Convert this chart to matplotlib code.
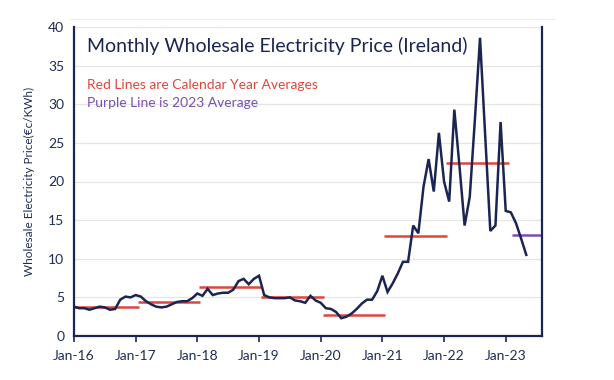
import matplotlib
matplotlib.use("Agg")
import matplotlib.pyplot as plt
from matplotlib.lines import Line2D

plt.rcParams['font.family'] = ['Lato', 'DejaVu Sans']

# Monthly prices Jan-16 .. May-23 (c/kWh)
price_2016 = [3.8, 3.6, 3.6, 3.4, 3.6, 3.8, 3.7, 3.4, 3.5, 4.7, 5.1, 5.0]
price_2017 = [5.3, 5.1, 4.5, 4.1, 3.8, 3.7, 3.8, 4.1, 4.4, 4.5, 4.5, 4.9]
price_2018 = [5.5, 5.2, 6.1, 5.3, 5.5, 5.6, 5.6, 6.0, 7.1, 7.4, 6.7, 7.4]
price_2019 = [7.8, 5.3, 5.0, 4.9, 4.9, 4.9, 5.0, 4.6, 4.5, 4.3, 5.2, 4.6]
price_2020 = [4.3, 3.6, 3.5, 3.1, 2.3, 2.5, 2.9, 3.5, 4.2, 4.7, 4.7, 5.8]
price_2021 = [7.8, 5.7, 6.8, 8.1, 9.6, 9.6, 14.3, 13.3, 19.3, 22.9, 18.7, 26.3]
price_2022 = [20.0, 17.4, 29.3, 22.0, 14.3, 18.0, 28.0, 38.6, 26.0, 13.6, 14.3, 27.7]
price_2023 = [16.2, 16.0, 14.6, 12.6, 10.5]

years = [2016, 2017, 2018, 2019, 2020, 2021, 2022]
year_avgs = [3.8, 4.4, 6.3, 5.1, 2.7, 13.0, 22.4]
avg_2023 = 13.1

tick_labels = ["Jan-16", "Jan-17", "Jan-18", "Jan-19", "Jan-20", "Jan-21", "Jan-22", "Jan-23"]

prices = price_2016 + price_2017 + price_2018 + price_2019 + price_2020 + price_2021 + price_2022 + price_2023
months = list(range(len(prices)))

navy = "#1b2552"
red = "#e0463c"
purple = "#7a4fb0"
txt = "#1f2d55"

fig = plt.figure(figsize=(6.14, 3.80), dpi=100)
ax = fig.add_axes([74/614, 1 - 336/380, (541.7 - 74)/614, (336 - 27)/380])

ax.plot(months, prices, color=navy, lw=1.8, zorder=3, solid_joinstyle='miter')

for i, (yr, avg) in enumerate(zip(years, year_avgs)):
    start = 0 if i == 0 else 12 * i + 0.4
    ax.plot([start, 12 * i + 12.6], [avg, avg], color=red, lw=1.8, zorder=2, solid_capstyle='butt')
ax.plot([12 * 7 + 1.3, 91], [avg_2023, avg_2023], color=purple, lw=1.8, zorder=2, solid_capstyle='butt')

ax.set_xlim(0, 91)
ax.set_ylim(0, 40)
ax.set_yticks(range(0, 41, 5))
ax.set_xticks([12 * k for k in range(8)])
ax.set_xticklabels(tick_labels)
ax.yaxis.grid(True, color="#e6e6e6", lw=0.9)
ax.set_axisbelow(True)
ax.tick_params(axis='y', length=0, labelsize=10, labelcolor=txt, pad=7)
ax.tick_params(axis='x', length=4, width=1.2, color=navy, labelsize=10, labelcolor=txt, pad=6, direction='out')
ax.spines['top'].set_visible(False)
for s in ['left', 'right', 'bottom']:
    ax.spines[s].set_color(navy)
    ax.spines[s].set_linewidth(1.6)

ax.set_ylabel("Wholesale Electricity Price(€c/KWh)", fontsize=8.5, color=txt)
ax.yaxis.set_label_coords((35 - 74) / (541.7 - 74), 0.5)

fig.text(87/614, 1 - 46/380, "Monthly Wholesale Electricity Price (Ireland)",
         fontsize=14, color=navy, va='center', ha='left')
fig.text(87/614, 1 - 85/380, "Red Lines are Calendar Year Averages",
         fontsize=10, color=red, va='center', ha='left')
fig.text(87/614, 1 - 103/380, "Purple Line is 2023 Average",
         fontsize=10, color=purple, va='center', ha='left')

fig.add_artist(Line2D([70/614, 555/614], [1 - 19/380, 1 - 19/380], color="#ededed", lw=0.8))

fig.savefig("out.png", dpi=100)
